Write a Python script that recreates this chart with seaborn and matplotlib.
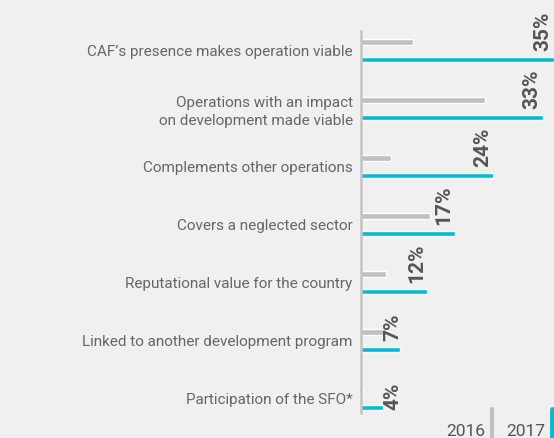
import pandas as pd
import matplotlib.pyplot as plt
import seaborn as sns
from matplotlib.lines import Line2D

# 数据
categories = ["CAF’s presence makes operation viable",
              "Operations with an impact\non development made viable",
              "Complements other operations",
              "Covers a neglected sector",
              "Reputational value for the country",
              "Linked to another development program",
              "Participation of the SFO*"]
years = ["2016", "2017"]
vals_2016 = [9.5, 22.5, 5.5, 12.5, 4.5, 4.5, 0.4]
vals_2017 = [35, 33, 24, 17, 12, 7, 4]

bg = '#f0f0f0'
gray = '#c0c0c0'
cyan = '#00bcd4'
txt = '#666666'

df = pd.DataFrame({
    'category': categories * 2,
    'value': vals_2016 + vals_2017,
    'year': [years[0]] * len(categories) + [years[1]] * len(categories),
})

sns.set_style('white')
plt.rcParams['font.family'] = ['Roboto', 'DejaVu Sans']

fig = plt.figure(figsize=(5.54, 4.38), dpi=100, facecolor=bg)
ax = fig.add_axes([361 / 554, 25 / 438, 193 / 554, 382 / 438])
ax.set_facecolor(bg)

sns.barplot(data=df, y='category', x='value', hue='year', orient='h',
            palette=[gray, cyan], width=0.6, gap=0.69, legend=False,
            saturation=1, ax=ax)

ax.set_xlim(0, 35)
ax.set_ylim(6.25, -0.34)
ax.set_xlabel('')
ax.set_ylabel('')
ax.set_xticks([])
for s in ['top', 'right', 'bottom']:
    ax.spines[s].set_visible(False)
ax.spines['left'].set_color('#c4c4c4')
ax.spines['left'].set_linewidth(1.8)
ax.tick_params(axis='y', length=0, pad=6, labelsize=11, labelcolor=txt)
for lab in ax.get_yticklabels():
    lab.set_fontweight('normal')
    lab.set_linespacing(1.35)

# 2017 数值标签
for i, v in enumerate(vals_2017):
    x = max(v, 7.8)
    dy = 6 if v >= 5 else -2
    ax.annotate(f"{v}%", xy=(x, i + 0.15), xytext=(-1, dy), textcoords='offset points',
                rotation=90, ha='right', va='bottom', fontsize=15, fontweight='bold',
                color='#555555', annotation_clip=False)

# 图例
fig.text(485 / 554, 2 / 438, years[0], ha='right', va='baseline', fontsize=12.5,
         color='#555555')
fig.text(545 / 554, 2 / 438, years[1], ha='right', va='baseline', fontsize=12.5,
         color='#555555')
fig.add_artist(Line2D([492 / 554, 492 / 554], [0, 29 / 438], color=gray, lw=3,
                      transform=fig.transFigure))
fig.add_artist(Line2D([551.5 / 554, 551.5 / 554], [0, 29 / 438], color=cyan, lw=3.5,
                      transform=fig.transFigure))

plt.savefig('out.png', dpi=100, facecolor=bg)
